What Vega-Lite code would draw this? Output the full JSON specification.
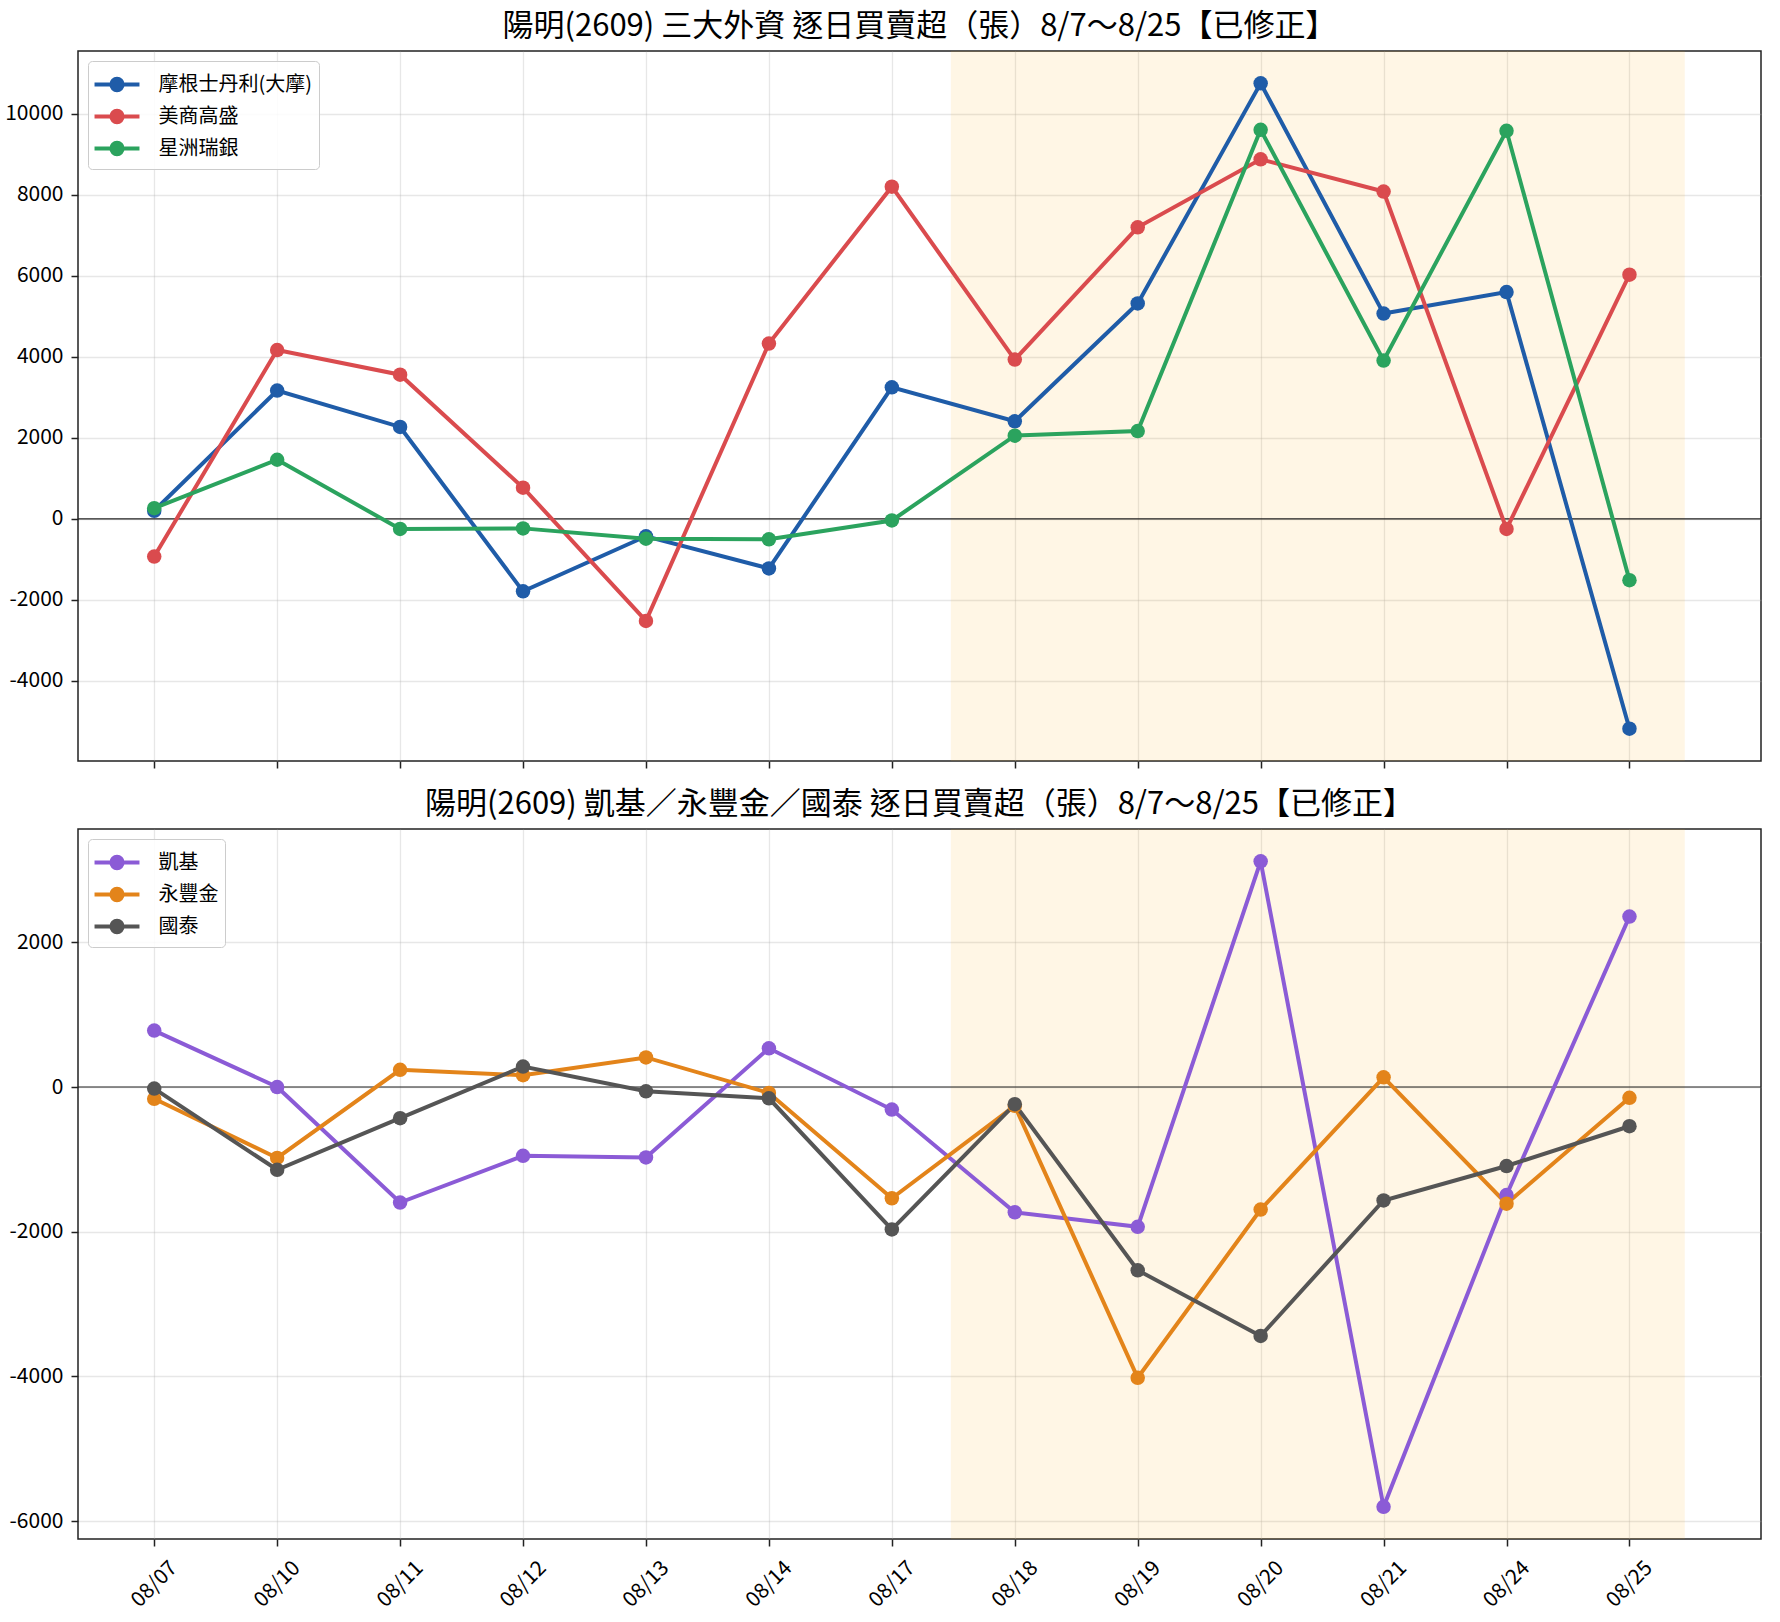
{
  "$schema": "https://vega.github.io/schema/vega-lite/v6.json",
  "padding": {"left": 3, "top": 10, "right": 10, "bottom": 5},
  "background": "white",
  "spacing": 18,
  "config": {
    "font": "Noto Sans CJK TC",
    "view": {"stroke": "#222222", "strokeWidth": 1.5},
    "title": {"fontSize": 31, "fontWeight": "normal", "color": "#000000", "anchor": "middle", "baseline": "bottom", "offset": 8, "font": "Noto Sans CJK TC"},
    "axis": {
      "domain": false,
      "grid": true,
      "gridColor": "#b0b0b0",
      "gridOpacity": 0.3,
      "gridWidth": 1.3,
      "tickColor": "#222222",
      "tickWidth": 1.5,
      "tickSize": 7,
      "labelFontSize": 21,
      "labelColor": "#000000",
      "labelPadding": 8,
      "labelFont": "Noto Sans CJK TC"
    },
    "legend": {
      "orient": "top-left",
      "offset": 10,
      "padding": 6,
      "rowPadding": 0,
      "labelFontSize": 20,
      "labelFont": "Noto Sans CJK TC",
      "labelColor": "#000000",
      "labelOffset": 24,
      "symbolOffset": 5.5,
      "strokeColor": "#cccccc",
      "fillColor": "rgba(255,255,255,0.85)",
      "cornerRadius": 4,
      "symbolType": "M-1.45,0L1.45,0M0.363,0A0.363,0.363,0,1,1,-0.363,0A0.363,0.363,0,1,1,0.363,0M0.145,0A0.145,0.145,0,1,1,-0.145,0A0.145,0.145,0,1,1,0.145,0M0.015,0A0.015,0.015,0,1,1,-0.015,0A0.015,0.015,0,1,1,0.015,0",
      "symbolSize": 961,
      "symbolStrokeWidth": 4
    }
  },
  "resolve": {
    "scale": {"x": "independent", "y": "independent", "color": "independent"},
    "legend": {"color": "independent"}
  },
  "datasets": {
    "span": [{"i": 6.48, "i2": 12.45}],
    "zero": [{"v": 0}],
    "top": [
      {"i": 0, "date": "08/07", "broker": "摩根士丹利(大摩)", "v": 200},
      {"i": 1, "date": "08/10", "broker": "摩根士丹利(大摩)", "v": 3170},
      {"i": 2, "date": "08/11", "broker": "摩根士丹利(大摩)", "v": 2270},
      {"i": 3, "date": "08/12", "broker": "摩根士丹利(大摩)", "v": -1790},
      {"i": 4, "date": "08/13", "broker": "摩根士丹利(大摩)", "v": -430},
      {"i": 5, "date": "08/14", "broker": "摩根士丹利(大摩)", "v": -1225},
      {"i": 6, "date": "08/17", "broker": "摩根士丹利(大摩)", "v": 3250},
      {"i": 7, "date": "08/18", "broker": "摩根士丹利(大摩)", "v": 2410},
      {"i": 8, "date": "08/19", "broker": "摩根士丹利(大摩)", "v": 5320},
      {"i": 9, "date": "08/20", "broker": "摩根士丹利(大摩)", "v": 10757},
      {"i": 10, "date": "08/21", "broker": "摩根士丹利(大摩)", "v": 5070},
      {"i": 11, "date": "08/24", "broker": "摩根士丹利(大摩)", "v": 5600},
      {"i": 12, "date": "08/25", "broker": "摩根士丹利(大摩)", "v": -5183},
      {"i": 0, "date": "08/07", "broker": "美商高盛", "v": -930},
      {"i": 1, "date": "08/10", "broker": "美商高盛", "v": 4170},
      {"i": 2, "date": "08/11", "broker": "美商高盛", "v": 3560},
      {"i": 3, "date": "08/12", "broker": "美商高盛", "v": 770},
      {"i": 4, "date": "08/13", "broker": "美商高盛", "v": -2520},
      {"i": 5, "date": "08/14", "broker": "美商高盛", "v": 4330},
      {"i": 6, "date": "08/17", "broker": "美商高盛", "v": 8205},
      {"i": 7, "date": "08/18", "broker": "美商高盛", "v": 3935},
      {"i": 8, "date": "08/19", "broker": "美商高盛", "v": 7200},
      {"i": 9, "date": "08/20", "broker": "美商高盛", "v": 8880},
      {"i": 10, "date": "08/21", "broker": "美商高盛", "v": 8085},
      {"i": 11, "date": "08/24", "broker": "美商高盛", "v": -250},
      {"i": 12, "date": "08/25", "broker": "美商高盛", "v": 6030},
      {"i": 0, "date": "08/07", "broker": "星洲瑞銀", "v": 265},
      {"i": 1, "date": "08/10", "broker": "星洲瑞銀", "v": 1460},
      {"i": 2, "date": "08/11", "broker": "星洲瑞銀", "v": -250},
      {"i": 3, "date": "08/12", "broker": "星洲瑞銀", "v": -235},
      {"i": 4, "date": "08/13", "broker": "星洲瑞銀", "v": -490},
      {"i": 5, "date": "08/14", "broker": "星洲瑞銀", "v": -505},
      {"i": 6, "date": "08/17", "broker": "星洲瑞銀", "v": -40},
      {"i": 7, "date": "08/18", "broker": "星洲瑞銀", "v": 2055},
      {"i": 8, "date": "08/19", "broker": "星洲瑞銀", "v": 2170},
      {"i": 9, "date": "08/20", "broker": "星洲瑞銀", "v": 9610},
      {"i": 10, "date": "08/21", "broker": "星洲瑞銀", "v": 3910},
      {"i": 11, "date": "08/24", "broker": "星洲瑞銀", "v": 9585},
      {"i": 12, "date": "08/25", "broker": "星洲瑞銀", "v": -1513}
    ],
    "bottom": [
      {"i": 0, "date": "08/07", "broker": "凱基", "v": 780},
      {"i": 1, "date": "08/10", "broker": "凱基", "v": 0},
      {"i": 2, "date": "08/11", "broker": "凱基", "v": -1597},
      {"i": 3, "date": "08/12", "broker": "凱基", "v": -951},
      {"i": 4, "date": "08/13", "broker": "凱基", "v": -973},
      {"i": 5, "date": "08/14", "broker": "凱基", "v": 535},
      {"i": 6, "date": "08/17", "broker": "凱基", "v": -312},
      {"i": 7, "date": "08/18", "broker": "凱基", "v": -1731},
      {"i": 8, "date": "08/19", "broker": "凱基", "v": -1932},
      {"i": 9, "date": "08/20", "broker": "凱基", "v": 3120},
      {"i": 10, "date": "08/21", "broker": "凱基", "v": -5802},
      {"i": 11, "date": "08/24", "broker": "凱基", "v": -1493},
      {"i": 12, "date": "08/25", "broker": "凱基", "v": 2355},
      {"i": 0, "date": "08/07", "broker": "永豐金", "v": -163},
      {"i": 1, "date": "08/10", "broker": "永豐金", "v": -981},
      {"i": 2, "date": "08/11", "broker": "永豐金", "v": 238},
      {"i": 3, "date": "08/12", "broker": "永豐金", "v": 163},
      {"i": 4, "date": "08/13", "broker": "永豐金", "v": 409},
      {"i": 5, "date": "08/14", "broker": "永豐金", "v": -82},
      {"i": 6, "date": "08/17", "broker": "永豐金", "v": -1538},
      {"i": 7, "date": "08/18", "broker": "永豐金", "v": -260},
      {"i": 8, "date": "08/19", "broker": "永豐金", "v": -4019},
      {"i": 9, "date": "08/20", "broker": "永豐金", "v": -1694},
      {"i": 10, "date": "08/21", "broker": "永豐金", "v": 134},
      {"i": 11, "date": "08/24", "broker": "永豐金", "v": -1612},
      {"i": 12, "date": "08/25", "broker": "永豐金", "v": -149},
      {"i": 0, "date": "08/07", "broker": "國泰", "v": -22},
      {"i": 1, "date": "08/10", "broker": "國泰", "v": -1144},
      {"i": 2, "date": "08/11", "broker": "國泰", "v": -431},
      {"i": 3, "date": "08/12", "broker": "國泰", "v": 282},
      {"i": 4, "date": "08/13", "broker": "國泰", "v": -59},
      {"i": 5, "date": "08/14", "broker": "國泰", "v": -156},
      {"i": 6, "date": "08/17", "broker": "國泰", "v": -1969},
      {"i": 7, "date": "08/18", "broker": "國泰", "v": -238},
      {"i": 8, "date": "08/19", "broker": "國泰", "v": -2533},
      {"i": 9, "date": "08/20", "broker": "國泰", "v": -3440},
      {"i": 10, "date": "08/21", "broker": "國泰", "v": -1568},
      {"i": 11, "date": "08/24", "broker": "國泰", "v": -1092},
      {"i": 12, "date": "08/25", "broker": "國泰", "v": -542}
    ]
  },
  "vconcat": [
    {
      "width": 1683,
      "height": 710,
      "title": {"text": "陽明(2609) 三大外資 逐日買賣超（張）8/7～8/25【已修正】"},
      "layer": [
        {
          "data": {"name": "span"},
          "mark": {"type": "rect", "fill": "#ffa500", "opacity": 0.1},
          "encoding": {
            "x": {"field": "i", "type": "quantitative", "axis": {"title": null}},
            "x2": {"field": "i2"}
          }
        },
        {
          "data": {"name": "zero"},
          "mark": {"type": "rule", "color": "#222222", "strokeWidth": 1.2},
          "encoding": {
            "y": {"field": "v", "type": "quantitative", "axis": {"title": null}}
          }
        },
        {
          "data": {"name": "top"},
          "mark": {"type": "line", "strokeWidth": 4, "point": {"filled": true, "size": 210}},
          "encoding": {
            "x": {
              "field": "i",
              "type": "quantitative",
              "scale": {"domain": [-0.62, 13.07], "nice": false, "zero": false},
              "axis": {"title": null, "values": [0, 1, 2, 3, 4, 5, 6, 7, 8, 9, 10, 11, 12], "labels": false}
            },
            "y": {
              "field": "v",
              "type": "quantitative",
              "scale": {"domain": [-5980, 11555], "nice": false, "zero": false},
              "axis": {"title": null, "values": [-4000, -2000, 0, 2000, 4000, 6000, 8000, 10000], "labelExpr": "'' + datum.value"}
            },
            "color": {
              "field": "broker",
              "type": "nominal",
              "scale": {"domain": ["摩根士丹利(大摩)", "美商高盛", "星洲瑞銀"], "range": ["#1f5ca8", "#da4b4e", "#2ba35e"]},
              "legend": {"title": null}
            }
          }
        }
      ]
    },
    {
      "width": 1683,
      "height": 710,
      "title": {"text": "陽明(2609) 凱基／永豐金／國泰 逐日買賣超（張）8/7～8/25【已修正】"},
      "layer": [
        {
          "data": {"name": "span"},
          "mark": {"type": "rect", "fill": "#ffa500", "opacity": 0.1},
          "encoding": {
            "x": {"field": "i", "type": "quantitative", "axis": {"title": null}},
            "x2": {"field": "i2"}
          }
        },
        {
          "data": {"name": "zero"},
          "mark": {"type": "rule", "color": "#222222", "strokeWidth": 1.2},
          "encoding": {
            "y": {"field": "v", "type": "quantitative", "axis": {"title": null}}
          }
        },
        {
          "data": {"name": "bottom"},
          "mark": {"type": "line", "strokeWidth": 4, "point": {"filled": true, "size": 210}},
          "encoding": {
            "x": {
              "field": "i",
              "type": "quantitative",
              "scale": {"domain": [-0.62, 13.07], "nice": false, "zero": false},
              "axis": {
                "title": null,
                "values": [0, 1, 2, 3, 4, 5, 6, 7, 8, 9, 10, 11, 12],
                "labelExpr": "['08/07','08/10','08/11','08/12','08/13','08/14','08/17','08/18','08/19','08/20','08/21','08/24','08/25'][datum.value]",
                "labelAngle": -45,
                "labelAlign": "center",
                "labelBaseline": "middle",
                "labelPadding": 38
              }
            },
            "y": {
              "field": "v",
              "type": "quantitative",
              "scale": {"domain": [-6247, 3566], "nice": false, "zero": false},
              "axis": {"title": null, "values": [-6000, -4000, -2000, 0, 2000], "labelExpr": "'' + datum.value"}
            },
            "color": {
              "field": "broker",
              "type": "nominal",
              "scale": {"domain": ["凱基", "永豐金", "國泰"], "range": ["#8b5bd6", "#e3841a", "#555555"]},
              "legend": {"title": null}
            }
          }
        }
      ]
    }
  ]
}
